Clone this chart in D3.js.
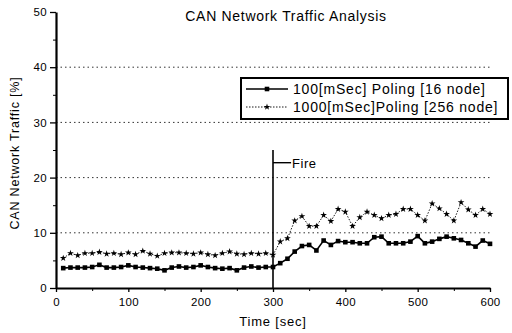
<!DOCTYPE html>
<html>
<head>
<meta charset="utf-8">
<script src="https://cdn.jsdelivr.net/npm/d3@7"></script>
<style>
  body { margin: 0; background: #fff; }
  text { font-family: "Liberation Sans", Arial, sans-serif; fill: #000; }
</style>
</head>
<body>
<svg id="chart"></svg>
<script>
// sample times: every 10 sec from 10 to 600
const times = d3.range(10, 601, 10);

const poling100 = [
  3.6, 3.7, 3.7, 3.7, 3.8, 4.2, 3.7, 3.7, 3.8, 4.1,
  3.8, 3.7, 3.6, 3.5, 3.2, 3.7, 3.9, 3.7, 3.8, 4.1,
  3.8, 3.6, 3.5, 3.6, 3.2, 3.7, 3.9, 3.7, 3.8, 3.8,
  4.5, 5.3, 6.6, 7.6, 7.8, 6.8, 8.6, 7.8, 8.5, 8.3,
  8.3, 8.1, 8.1, 9.2, 9.3, 8.1, 8.1, 8.1, 8.4, 9.4,
  8.1, 8.4, 8.9, 9.3, 9.0, 8.7, 8.1, 7.5, 8.6, 8.0
];

const poling1000 = [
  5.4, 6.3, 5.9, 6.3, 6.3, 6.5, 6.2, 6.3, 6.1, 6.4,
  6.1, 6.7, 6.2, 5.8, 6.3, 6.4, 6.4, 6.3, 6.2, 6.4,
  6.1, 5.9, 6.3, 6.6, 6.2, 6.1, 6.3, 6.2, 6.3, 6.0,
  8.4, 9.0, 12.2, 13.0, 11.2, 11.2, 13.2, 12.1, 14.3, 13.8,
  11.2, 12.8, 13.8, 13.2, 12.6, 13.2, 13.4, 14.3, 14.3, 13.2,
  12.2, 15.3, 14.4, 13.4, 12.2, 15.5, 14.2, 13.2, 14.3, 13.4
];

const seriesNames = ['100[mSec]  Poling [16 node]', '1000[mSec]Poling [256 node]'];
const xTicks = [0, 100, 200, 300, 400, 500, 600];
const yTicks = [0, 10, 20, 30, 40, 50];
const gridValues = [10, 20, 30, 40];
const fireTime = 300;

const svgWidth = 512;
const svgHeight = 333;
const margin = { top: 12, right: 22, bottom: 45, left: 56 };
const width = svgWidth - margin.left - margin.right;
const height = svgHeight - margin.top - margin.bottom;

const svg = d3.select('#chart')
  .attr('width', svgWidth)
  .attr('height', svgHeight);

const g = svg.append('g')
  .attr('transform', `translate(${margin.left},${margin.top})`);

const x = d3.scaleLinear().domain([0, 600]).range([0, width]);
const y = d3.scaleLinear().domain([0, 50]).range([height, 0]);

// dotted grid
g.selectAll('.grid')
  .data(gridValues)
  .enter()
  .append('line')
    .attr('x1', 0)
    .attr('x2', width)
    .attr('y1', d => y(d))
    .attr('y2', d => y(d))
    .attr('stroke', '#333')
    .attr('stroke-width', 1)
    .attr('stroke-dasharray', '1.5,3');

// minor ticks
g.append('g')
  .call(d3.axisLeft(y).tickValues(d3.range(5, 50, 10)).tickSize(3).tickFormat(''))
  .call(a => a.select('.domain').remove());
g.append('g')
  .attr('transform', `translate(0,${height})`)
  .call(d3.axisBottom(x).tickValues(d3.range(50, 600, 100)).tickSize(3).tickFormat(''))
  .call(a => a.select('.domain').remove());

// axes
const yAxis = g.append('g')
  .call(d3.axisLeft(y).tickValues(yTicks).tickSize(6).tickSizeOuter(0));
const xAxis = g.append('g')
  .attr('transform', `translate(0,${height})`)
  .call(d3.axisBottom(x).tickValues(xTicks).tickSize(4).tickSizeOuter(0));

[yAxis, xAxis].forEach(a => {
  a.select('.domain').attr('stroke-width', 2.2);
  a.selectAll('.tick line').attr('stroke-width', 1.3);
  a.selectAll('text').style('font-size', '11.5px').style('letter-spacing', '0.3px');
});
yAxis.selectAll('text').attr('x', -9);
xAxis.selectAll('text').attr('y', 10);

// fire marker
g.append('line')
  .attr('x1', x(fireTime)).attr('x2', x(fireTime))
  .attr('y1', y(0)).attr('y2', y(25))
  .attr('stroke', '#000').attr('stroke-width', 1.6);
g.append('line')
  .attr('x1', x(fireTime)).attr('x2', x(fireTime + 25))
  .attr('y1', y(22.7)).attr('y2', y(22.7))
  .attr('stroke', '#000').attr('stroke-width', 1.4);
g.append('text')
  .attr('x', x(fireTime + 25) + 1)
  .attr('y', y(22.7) + 5)
  .style('font-size', '13px')
  .style('letter-spacing', '0.5px')
  .text('Fire');

// series
const line = d3.line()
  .x((d, i) => x(times[i]))
  .y(d => y(d));

g.append('path')
  .datum(poling1000)
  .attr('fill', 'none')
  .attr('stroke', '#000')
  .attr('stroke-width', 0.9)
  .attr('stroke-dasharray', '1.5,1.5')
  .attr('d', line);

g.selectAll('.star')
  .data(poling1000)
  .enter()
  .append('path')
    .attr('transform', (d, i) => `translate(${x(times[i])},${y(d)})`)
    .attr('d', d3.symbol().type(d3.symbolStar).size(14))
    .attr('fill', '#000');

g.append('path')
  .datum(poling100)
  .attr('fill', 'none')
  .attr('stroke', '#000')
  .attr('stroke-width', 1.6)
  .attr('d', line);

g.selectAll('.sq')
  .data(poling100)
  .enter()
  .append('rect')
    .attr('x', (d, i) => x(times[i]) - 2.3)
    .attr('y', d => y(d) - 2.3)
    .attr('width', 4.6)
    .attr('height', 4.6)
    .attr('fill', '#000');

// title and axis labels
svg.append('text')
  .attr('x', 286)
  .attr('y', 21)
  .attr('text-anchor', 'middle')
  .style('font-size', '14px')
  .style('letter-spacing', '0.7px')
  .text('CAN Network Traffic Analysis');

svg.append('text')
  .attr('x', 273)
  .attr('y', 326)
  .attr('text-anchor', 'middle')
  .style('font-size', '13px')
  .style('letter-spacing', '0.8px')
  .text('Time [sec]');

svg.append('text')
  .attr('transform', 'translate(19,153) rotate(-90)')
  .attr('text-anchor', 'middle')
  .style('font-size', '12.5px')
  .style('letter-spacing', '0.8px')
  .text('CAN Network Traffic [%]');

// legend
const legend = svg.append('g').attr('transform', 'translate(241,78)');
legend.append('rect')
  .attr('width', 267)
  .attr('height', 41)
  .attr('fill', '#fff')
  .attr('stroke', '#000')
  .attr('stroke-width', 2);

const legendRows = legend.selectAll('.row')
  .data(seriesNames)
  .enter()
  .append('g')
    .attr('transform', (d, i) => `translate(0,${11 + i * 18})`);

legendRows.append('line')
  .attr('x1', 5).attr('x2', 47)
  .attr('stroke', '#000')
  .attr('stroke-width', (d, i) => i === 0 ? 1.6 : 0.9)
  .attr('stroke-dasharray', (d, i) => i === 0 ? null : '1.5,1.5');
legendRows.append('path')
  .attr('transform', 'translate(26,0)')
  .attr('d', (d, i) => d3.symbol().type(i === 0 ? d3.symbolSquare : d3.symbolStar).size(i === 0 ? 21 : 14)());
legendRows.append('text')
  .attr('x', 52)
  .attr('y', 5)
  .style('font-size', '14px')
  .style('letter-spacing', '0.8px')
  .text(d => d);
</script>
</body>
</html>
